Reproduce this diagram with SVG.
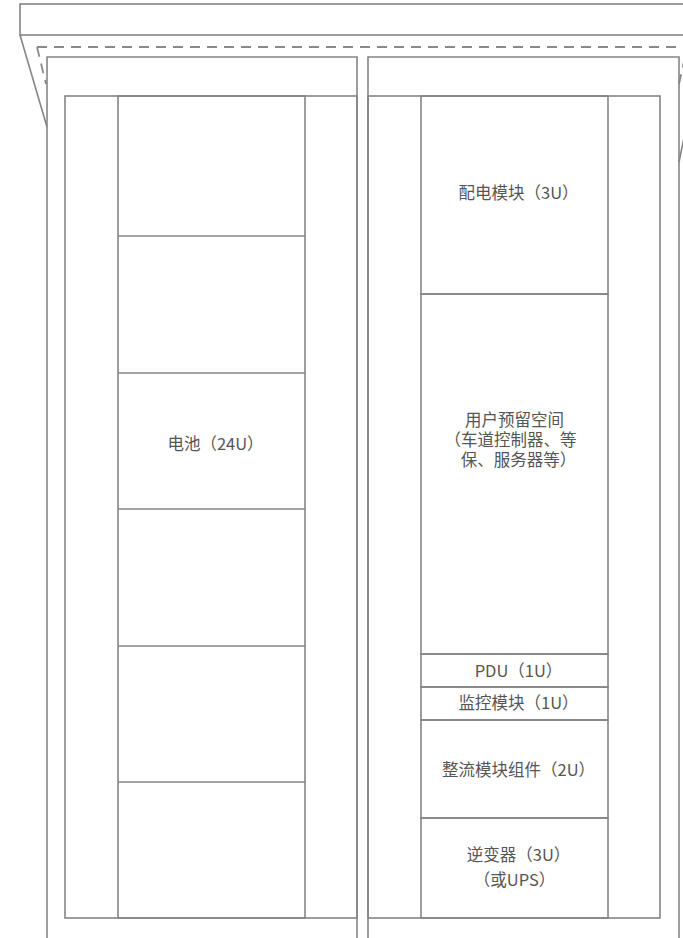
<svg xmlns="http://www.w3.org/2000/svg" width="683" height="938" viewBox="0 0 683 938">
<style>
.ln{fill:none;stroke:#858585;stroke-width:1.6}
.ds{fill:none;stroke:#8a8a8a;stroke-width:1.8;stroke-dasharray:10 7}
.t{font-family:"Noto Sans CJK SC","Noto Sans",sans-serif;font-size:16.5px;fill:#555;text-anchor:middle}
</style>
<rect width="683" height="938" fill="#fff"/>
<g id="cabinet">
<rect class="ln" x="20" y="4" width="680" height="31"/>
<line class="ds" x1="37" y1="47" x2="683" y2="47"/>
<line class="ds" x1="37" y1="47" x2="46" y2="84"/>
<line class="ds" x1="679" y1="84" x2="686" y2="52"/>
<line class="ln" x1="20" y1="35" x2="47" y2="127"/>
<line class="ln" x1="679" y1="162" x2="686" y2="128"/>
<path class="ln" d="M47 938V57H357V938"/>
<path class="ln" d="M368 938V57H679V938"/>
<rect class="ln" x="65" y="96" width="292" height="822"/>
<rect class="ln" x="368" y="96" width="292" height="822"/>
</g>
<g id="battery">
<rect class="ln" x="118" y="96" width="187" height="822"/>
<line class="ln" x1="118" y1="236" x2="305" y2="236"/>
<line class="ln" x1="118" y1="373" x2="305" y2="373"/>
<line class="ln" x1="118" y1="509" x2="305" y2="509"/>
<line class="ln" x1="118" y1="646" x2="305" y2="646"/>
<line class="ln" x1="118" y1="782" x2="305" y2="782"/>
<text class="t" x="215.5" y="450">电池（24U）</text>
</g>
<g id="power-distribution">
<rect class="ln" x="421" y="96" width="187" height="198"/>
<text class="t" x="518.5" y="199">配电模块（3U）</text>
</g>
<g id="user-space">
<rect class="ln" x="421" y="294" width="187" height="360"/>
<text class="t"><tspan x="514.5" y="426">用户预留空间</tspan><tspan x="510.5" y="446">（车道控制器、等</tspan><tspan x="518.5" y="466">保、服务器等）</tspan></text>
</g>
<g id="pdu">
<rect class="ln" x="421" y="654" width="187" height="33"/>
<text class="t" x="518.5" y="677">PDU（1U）</text>
</g>
<g id="monitor">
<rect class="ln" x="421" y="687" width="187" height="33"/>
<text class="t" x="518.5" y="709">监控模块（1U）</text>
</g>
<g id="rectifier">
<rect class="ln" x="421" y="720" width="187" height="98"/>
<text class="t" x="518.5" y="776">整流模块组件（2U）</text>
</g>
<g id="inverter">
<rect class="ln" x="421" y="818" width="187" height="100"/>
<text class="t"><tspan x="518.5" y="861">逆变器（3U）</tspan><tspan x="514.5" y="886">（或UPS）</tspan></text>
</g>
<g id="connectors"></g>
</svg>
